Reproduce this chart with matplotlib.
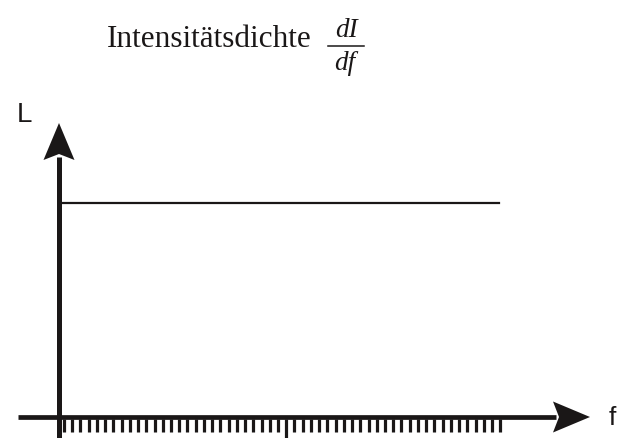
import matplotlib
matplotlib.use('Agg')
import matplotlib.pyplot as plt
from matplotlib.patches import Polygon
import numpy as np

# schematic values (pixel-like units, origin at the axis crossing)
f_line = [3, 440]
L_line = [214, 214]
n_ticks = 54
tick_step = 8.23
long_tick = 27

fig = plt.figure(figsize=(6.19, 4.38), dpi=100)
ax = fig.add_axes([0, 0, 1, 1])
ax.set_xlim(-59, 560)
ax.set_ylim(-21, 417)
ax.axis('off')

black = '#1a1717'

# f axis
ax.plot([-41, 497], [0, 0], color=black, lw=3.4, solid_capstyle='butt')
ax.add_patch(Polygon([[531, 0], [494, 15.5], [500, 0], [494, -15.5]],
                     closed=True, color=black, lw=0))

# L axis
ax.plot([0, 0], [-21, 260], color=black, lw=3.6, solid_capstyle='butt')
ax.add_patch(Polygon([[0, 294], [-15.5, 257], [0, 263], [15.5, 257]],
                     closed=True, color=black, lw=0))

# ticks under the f axis
xt = 5 + np.arange(n_ticks) * tick_step
for i, x in enumerate(xt):
    bottom = -21 if i == long_tick else -15
    ax.plot([x, x], [-2, bottom], color=black, lw=2.3, solid_capstyle='butt')

# constant line
ax.plot(f_line, L_line, color=black, lw=1.6)

ax.text(-42, 295, 'L', fontsize=20, family='Liberation Sans', color=black,
        ha='left', va='baseline')
ax.text(550, -8, 'f', fontsize=19, family='Liberation Sans', color=black,
        ha='left', va='baseline')

# title with fraction
ax.text(48, 370, 'Intensitätsdichte', fontsize=22.5, family='Liberation Serif',
        color=black, ha='left', va='baseline')
ax.text(287, 380, 'dI', fontsize=19.5, family='Liberation Serif', style='italic',
        color=black, ha='center', va='baseline')
ax.plot([269, 305], [371, 371], color=black, lw=1.1)
ax.text(286, 347, 'df', fontsize=19.5, family='Liberation Serif', style='italic',
        color=black, ha='center', va='baseline')

fig.savefig('out.png', dpi=100)
